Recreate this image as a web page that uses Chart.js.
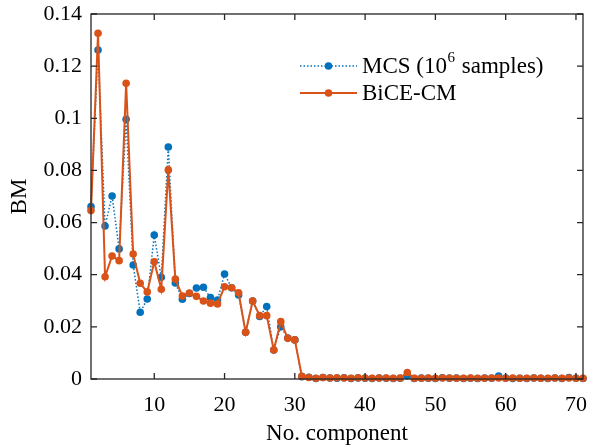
<!DOCTYPE html>
<html>
<head>
<meta charset="utf-8">
<script src="https://cdn.jsdelivr.net/npm/chart.js@4"></script>
<style>
  html, body { margin: 0; padding: 0; background: #ffffff; }
  #wrap { width: 589px; height: 445px; }
</style>
</head>
<body>
<div id="wrap"><canvas id="c" width="589" height="445"></canvas></div>
<script>
// Component indices 1..71
const components = Array.from({ length: 71 }, (_, i) => i + 1);

// Monte Carlo reference estimate of the BM index per component
const mcsValues = [
  0.0661, 0.1262, 0.0587, 0.0702, 0.0499, 0.0996, 0.0437, 0.0256, 0.0307, 0.0552,
  0.0390, 0.0890, 0.0368, 0.0306, 0.0328, 0.0349, 0.0352, 0.0312, 0.0303, 0.0403,
  0.0350, 0.0322, 0.0179, 0.0299, 0.0240, 0.0278, 0.0111, 0.0200, 0.0157, 0.0150,
  0.0009, 0.0007, 0.0002, 0.0006, 0.0004, 0.0003, 0.0005, 0.0002, 0.0004, 0.0003,
  0.0002, 0.0004, 0.0003, 0.0002, 0.0003, 0.0012, 0.0002, 0.0004, 0.0003, 0.0002,
  0.0005, 0.0003, 0.0004, 0.0002, 0.0003, 0.0002, 0.0004, 0.0003, 0.0011, 0.0004,
  0.0002, 0.0003, 0.0002, 0.0004, 0.0003, 0.0002, 0.0004, 0.0002, 0.0006, 0.0003,
  0.0002
];

// BiCE-CM estimate of the BM index per component
const biceValues = [
  0.0646, 0.1326, 0.0392, 0.0472, 0.0454, 0.1134, 0.0479, 0.0367, 0.0334, 0.0450,
  0.0344, 0.0802, 0.0383, 0.0318, 0.0330, 0.0317, 0.0299, 0.0291, 0.0288, 0.0354,
  0.0350, 0.0331, 0.0179, 0.0299, 0.0243, 0.0243, 0.0111, 0.0220, 0.0156, 0.0150,
  0.0010, 0.0006, 0.0003, 0.0006, 0.0004, 0.0005, 0.0004, 0.0003, 0.0005, 0.0004,
  0.0003, 0.0004, 0.0004, 0.0003, 0.0004, 0.0025, 0.0003, 0.0003, 0.0004, 0.0003,
  0.0004, 0.0004, 0.0003, 0.0003, 0.0004, 0.0003, 0.0003, 0.0004, 0.0004, 0.0003,
  0.0004, 0.0003, 0.0003, 0.0004, 0.0003, 0.0003, 0.0004, 0.0003, 0.0004, 0.0003,
  0.0003
];

const xTicks = [10, 20, 30, 40, 50, 60, 70];
const yTicks = [0, 0.02, 0.04, 0.06, 0.08, 0.1, 0.12, 0.14];
const yTickLabels = ['0', '0.02', '0.04', '0.06', '0.08', '0.1', '0.12', '0.14'];

const FONT = "'Liberation Serif', 'DejaVu Serif', serif";
const INK = '#262626';
const BLUE = '#0072BD';
const ORANGE = '#D95319';

// Box around the plot area, inward tick marks on all four sides, and the legend
const boxPlugin = {
  id: 'boxAndLegend',
  afterDraw(chart) {
    const ctx = chart.ctx;
    const a = chart.chartArea;
    const xs = chart.scales.x, ys = chart.scales.y;
    const tl = 6;
    ctx.save();
    ctx.strokeStyle = INK;
    ctx.lineWidth = 1.3;
    ctx.beginPath();
    xTicks.forEach(v => {
      const px = xs.getPixelForValue(v);
      ctx.moveTo(px, a.bottom); ctx.lineTo(px, a.bottom - tl);
      ctx.moveTo(px, a.top); ctx.lineTo(px, a.top + tl);
    });
    yTicks.forEach(v => {
      const py = ys.getPixelForValue(v);
      ctx.moveTo(a.left, py); ctx.lineTo(a.left + tl, py);
      ctx.moveTo(a.right, py); ctx.lineTo(a.right - tl, py);
    });
    ctx.stroke();
    ctx.strokeRect(a.left, a.top, a.right - a.left, a.bottom - a.top);

    // Legend
    const lx0 = 300, lx1 = 357, tx = 362;
    const rows = [66, 93];
    [0, 1].forEach((di, r) => {
      const ds = chart.data.datasets[di];
      const y = rows[r];
      ctx.save();
      ctx.strokeStyle = ds.borderColor;
      ctx.lineWidth = ds.borderWidth;
      ctx.setLineDash(ds.borderDash || []);
      ctx.beginPath();
      ctx.moveTo(lx0, y); ctx.lineTo(lx1, y);
      ctx.stroke();
      ctx.setLineDash([]);
      ctx.fillStyle = ds.pointBackgroundColor;
      ctx.beginPath();
      ctx.arc((lx0 + lx1) / 2, y, ds.pointRadius, 0, Math.PI * 2);
      ctx.fill();
      ctx.restore();

      // Label text, with the superscript digit raised and reduced
      ctx.fillStyle = '#000';
      ctx.textBaseline = 'middle';
      ctx.textAlign = 'left';
      let x = tx;
      ds.label.split(/(⁶)/).forEach(p => {
        if (p === '⁶') {
          ctx.font = '15px ' + FONT;
          ctx.fillText('6', x + 0.5, y - 8);
          x += ctx.measureText('6').width + 1.5;
        } else if (p) {
          ctx.font = '23px ' + FONT;
          ctx.fillText(p, x, y + 1);
          x += ctx.measureText(p).width;
        }
      });
    });
    ctx.restore();
  }
};

new Chart(document.getElementById('c'), {
  type: 'line',
  data: {
    labels: components,
    datasets: [
      {
        label: 'MCS (10⁶ samples)',
        data: mcsValues,
        borderColor: BLUE,
        backgroundColor: BLUE,
        borderWidth: 1.5,
        borderDash: [1.5, 2],
        pointRadius: 3.8,
        pointBorderWidth: 0,
        pointBackgroundColor: BLUE,
        pointHoverRadius: 3.8,
        tension: 0,
        clip: false,
        order: 1
      },
      {
        label: 'BiCE-CM',
        data: biceValues,
        borderColor: ORANGE,
        backgroundColor: ORANGE,
        borderWidth: 2,
        pointRadius: 3.8,
        pointBorderWidth: 0,
        pointBackgroundColor: ORANGE,
        pointHoverRadius: 3.8,
        tension: 0,
        clip: false,
        order: 0
      }
    ]
  },
  options: {
    responsive: false,
    animation: false,
    events: [],
    layout: { autoPadding: false, padding: { top: 14, right: 6, left: 0, bottom: 0 } },
    plugins: {
      legend: { display: false },
      tooltip: { enabled: false }
    },
    scales: {
      x: {
        type: 'linear',
        min: 1,
        max: 71,
        grid: { display: false, drawTicks: false },
        border: { display: false },
        afterBuildTicks(scale) { scale.ticks = xTicks.map(v => ({ value: v })); },
        afterFit(scale) {
          scale.height = 66;
          scale.paddingLeft = 0;
          scale.paddingRight = 0;
        },
        ticks: {
          autoSkip: false,
          maxRotation: 0,
          padding: 13,
          color: '#000',
          font: { family: FONT, size: 22 },
          callback: v => String(v)
        },
        title: {
          display: true,
          text: 'No. component',
          color: '#000',
          font: { family: FONT, size: 23, lineHeight: 1.0 },
          padding: { top: 0, bottom: 0 }
        }
      },
      y: {
        min: 0,
        max: 0.14,
        grid: { display: false, drawTicks: false },
        border: { display: false },
        afterBuildTicks(scale) { scale.ticks = yTicks.map(v => ({ value: v })); },
        afterFit(scale) {
          scale.width = 91;
          scale.paddingTop = 0;
          scale.paddingBottom = 0;
        },
        ticks: {
          padding: 9,
          color: '#000',
          font: { family: FONT, size: 22 },
          callback: (v, i) => yTickLabels[i]
        },
        title: {
          display: true,
          text: 'BM',
          color: '#000',
          font: { family: FONT, size: 23 },
          padding: { top: 6, bottom: 0 }
        }
      }
    }
  },
  plugins: [boxPlugin]
});
</script>
</body>
</html>
